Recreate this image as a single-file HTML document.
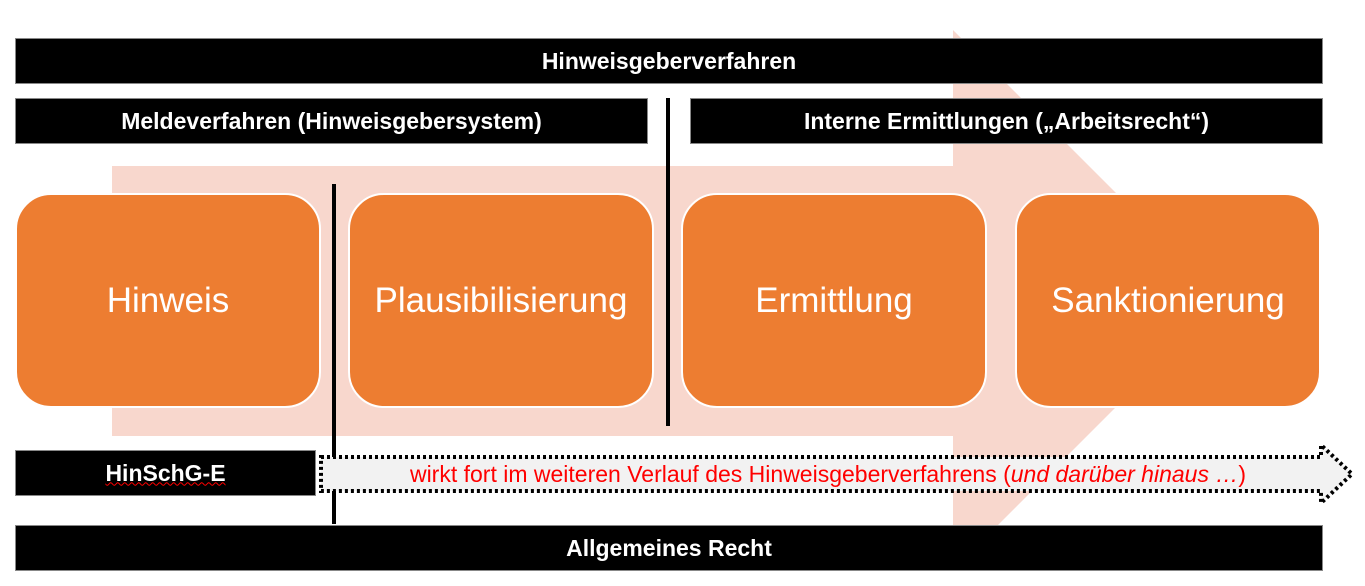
<!DOCTYPE html>
<html><head><meta charset="utf-8"><style>
body{margin:0;width:1365px;height:586px;background:#fff;position:relative;overflow:hidden;font-family:"Liberation Sans",sans-serif}
.b{position:absolute;background:#000;color:#fff;font-weight:bold;font-size:23px;display:flex;align-items:center;justify-content:center;border:1px solid #888;box-sizing:border-box}
.o{position:absolute;top:193px;width:306px;height:215px;background:#ED7D31;border:2px solid #fff;box-sizing:border-box;border-radius:36px;color:#fff;font-size:35px;display:flex;align-items:center;justify-content:center}
.v{position:absolute;background:#000;width:4px}
</style></head><body>
<svg style="position:absolute;left:0;top:0" width="1365" height="586">
<polygon points="112,166 953,166 953,30 1223,300 953,570 953,436 112,436" fill="#F8D7CD"/>
</svg>
<div class="b" style="left:15px;top:38px;width:1308px;height:46px">Hinweisgeberverfahren</div>
<div class="b" style="left:15px;top:98px;width:633px;height:46px">Meldeverfahren (Hinweisgebersystem)</div>
<div class="b" style="left:690px;top:98px;width:633px;height:46px">Interne Ermittlungen („Arbeitsrecht“)</div>
<div class="o" style="left:15px">Hinweis</div>
<div class="o" style="left:348px">Plausibilisierung</div>
<div class="o" style="left:681px">Ermittlung</div>
<div class="o" style="left:1015px">Sanktionierung</div>
<div class="v" style="left:332px;top:184px;height:340px"></div>
<div class="v" style="left:666px;top:98px;height:328px"></div>
<div class="b" style="left:15px;top:450px;width:301px;height:46px"><span style="text-decoration:underline wavy red;text-decoration-thickness:1px">HinSchG-E</span></div>
<svg style="position:absolute;left:0;top:0" width="1365" height="586">
<polygon points="321,457 1321,457 1321,445 1352,474 1321,503 1321,491 321,491" fill="#f2f2f2" stroke="#000" stroke-width="4" stroke-dasharray="3,3"/>
<text x="828" y="482" fill="#f00" font-size="23" text-anchor="middle" font-family="Liberation Sans, sans-serif">wirkt fort im weiteren Verlauf des Hinweisgeberverfahrens (<tspan font-style="italic">und darüber hinaus …</tspan>)</text>
</svg>
<div class="b" style="left:15px;top:525px;width:1308px;height:46px">Allgemeines Recht</div>
</body></html>
